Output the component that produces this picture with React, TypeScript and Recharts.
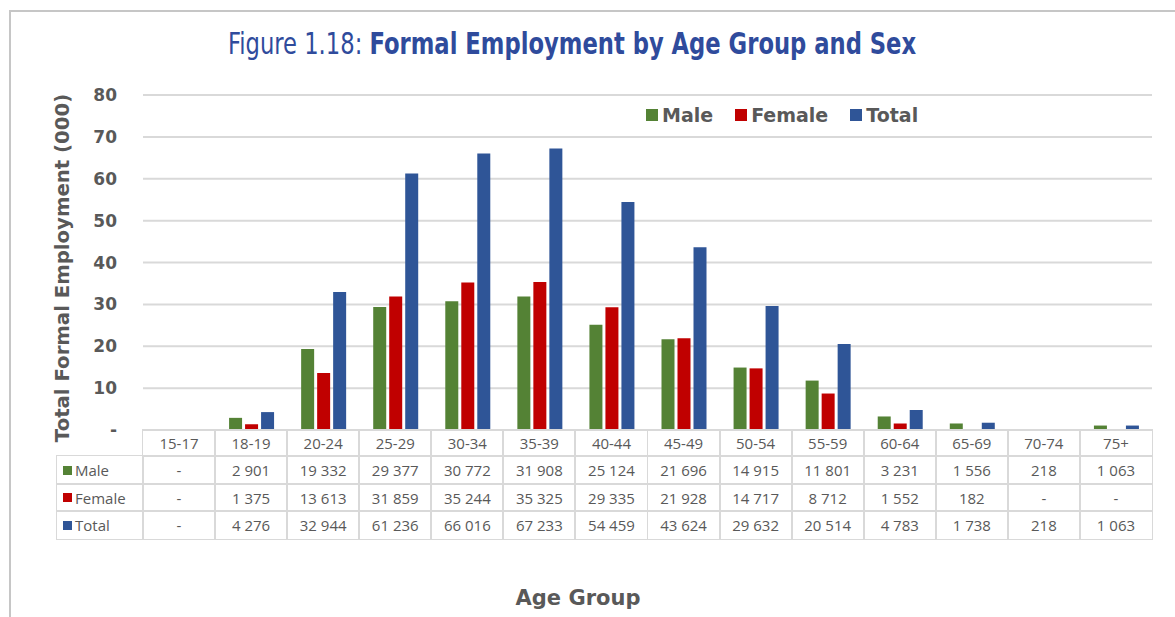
import { BarChart, Bar, XAxis, YAxis, CartesianGrid } from 'recharts';

const ageGroups = ['15-17', '18-19', '20-24', '25-29', '30-34', '35-39', '40-44', '45-49', '50-54', '55-59', '60-64', '65-69', '70-74', '75+'];
const male = [0, 2901, 19332, 29377, 30772, 31908, 25124, 21696, 14915, 11801, 3231, 1556, 218, 1063];
const female = [0, 1375, 13613, 31859, 35244, 35325, 29335, 21928, 14717, 8712, 1552, 182, 0, 0];
const total = [0, 4276, 32944, 61236, 66016, 67233, 54459, 43624, 29632, 20514, 4783, 1738, 218, 1063];
const yTicks = [0, 10, 20, 30, 40, 50, 60, 70, 80];

const series = [
  { key: 'male', name: 'Male', color: '#548235', values: male },
  { key: 'female', name: 'Female', color: '#C00000', values: female },
  { key: 'total', name: 'Total', color: '#2F5597', values: total },
];

const data = ageGroups.map((age, i) => ({
  age,
  male: male[i] / 1000,
  female: female[i] / 1000,
  total: total[i] / 1000,
}));

const GRAY = '#595959';
const GRID = '#d9d9d9';
const BOLD_FONT = '"DejaVu Sans", sans-serif';
const TABLE_FONT = '"Open Sans", sans-serif';

// plot area in page pixels
const PLOT_LEFT = 143;
const PLOT_RIGHT = 1152;
const PLOT_TOP = 95;
const PLOT_BOTTOM = 430;
const COL_W = (PLOT_RIGHT - PLOT_LEFT) / ageGroups.length;
const LABEL_LEFT = 57;
const rowTops = [430, 456, 484, 511, 539];

function fmt(n: number): string {
  if (!n) return '-';
  return String(n).replace(/\B(?=(\d{3})+(?!\d))/g, ' ');
}

function cell(left: number, top: number, width: number, height: number, content: any, key: string) {
  return (
    <div
      key={key}
      style={{
        position: 'absolute',
        left,
        top,
        width,
        height,
        boxSizing: 'border-box',
        border: `1px solid ${GRID}`,
        margin: -1,
        display: 'flex',
        alignItems: 'center',
        justifyContent: 'center',
        fontFamily: TABLE_FONT,
        fontSize: 15,
        color: GRAY,
      }}
    >
      {content}
    </div>
  );
}

export default function App() {
  const cells: any[] = [];
  ageGroups.forEach((age, c) => {
    cells.push(cell(PLOT_LEFT + c * COL_W, rowTops[0], COL_W + 2, rowTops[1] - rowTops[0] + 2, age, `h${c}`));
  });
  series.forEach((s, r) => {
    const top = rowTops[r + 1];
    const h = rowTops[r + 2] - top + 2;
    cells.push(
      <div
        key={`l${r}`}
        style={{
          position: 'absolute',
          left: LABEL_LEFT,
          top,
          width: PLOT_LEFT - LABEL_LEFT + 2,
          height: h,
          boxSizing: 'border-box',
          border: `1px solid ${GRID}`,
          margin: -1,
          display: 'flex',
          alignItems: 'center',
          paddingLeft: 6,
          fontFamily: TABLE_FONT,
          fontSize: 15,
          color: GRAY,
        }}
      >
        <span style={{ width: 9, height: 9, background: s.color, marginRight: 3, display: 'inline-block' }} />
        {s.name}
      </div>
    );
    s.values.forEach((v, c) => {
      cells.push(cell(PLOT_LEFT + c * COL_W, top, COL_W + 2, h, fmt(v), `c${r}-${c}`));
    });
  });

  return (
    <div style={{ position: 'absolute', left: 0, top: 0, width: 1175, height: 617, background: '#fff', overflow: 'hidden' }}>
      <div style={{ position: 'absolute', left: 9, top: 10, width: 1200, height: 700, border: '2px solid #c6c6c6', boxSizing: 'border-box' }} />
      <div
        style={{
          position: 'absolute',
          left: 228,
          top: 26,
          fontFamily: '"DejaVu Sans Condensed", "DejaVu Sans", sans-serif',
          fontSize: 30,
          color: '#2F4B9C',
          whiteSpace: 'nowrap',
          transform: 'scaleX(0.84)',
          transformOrigin: 'left center',
        }}
      >
        Figure 1.18: <b>Formal Employment by Age Group and Sex</b>
      </div>

      <div style={{ position: 'absolute', left: 0, top: 0 }}>
        <BarChart
          width={1175}
          height={617}
          data={data}
          margin={{ top: PLOT_TOP, right: 1175 - PLOT_RIGHT, left: PLOT_LEFT - 60, bottom: 617 - PLOT_BOTTOM }}
          barSize={13}
          barGap={3}
        >
          <CartesianGrid vertical={false} stroke={GRID} strokeWidth={2} />
          <XAxis dataKey="age" hide />
          <YAxis
            width={60}
            domain={[0, 80]}
            ticks={yTicks}
            interval={0}
            axisLine={false}
            tickLine={false}
            tickSize={0}
            tickMargin={26}
            tickFormatter={(v: number) => (v === 0 ? '-' : String(v))}
            tick={{ fill: GRAY, fontSize: 17, fontWeight: 'bold', fontFamily: BOLD_FONT }}
          />
          {series.map((s) => (
            <Bar key={s.key} dataKey={s.key} name={s.name} fill={s.color} isAnimationActive={false} />
          ))}
        </BarChart>
      </div>

      <div
        style={{
          position: 'absolute',
          left: 62,
          top: 268,
          transform: 'translate(-50%, -50%) rotate(-90deg)',
          fontFamily: BOLD_FONT,
          fontWeight: 'bold',
          fontSize: 19.7,
          color: GRAY,
          whiteSpace: 'nowrap',
        }}
      >
        Total Formal Employment (000)
      </div>

      <div style={{ position: 'absolute', left: 646, top: 104, display: 'flex', alignItems: 'center', fontFamily: BOLD_FONT, fontWeight: 'bold', fontSize: 19, color: GRAY }}>
        {series.map((s) => (
          <div key={s.key} style={{ display: 'flex', alignItems: 'center', marginRight: 22 }}>
            <span style={{ width: 12, height: 12, background: s.color, display: 'inline-block', marginRight: 4 }} />
            {s.name}
          </div>
        ))}
      </div>

      {cells}

      <div
        style={{
          position: 'absolute',
          left: 578,
          top: 598,
          transform: 'translate(-50%, -50%)',
          fontFamily: BOLD_FONT,
          fontWeight: 'bold',
          fontSize: 21,
          color: GRAY,
          whiteSpace: 'nowrap',
        }}
      >
        Age Group
      </div>
    </div>
  );
}
